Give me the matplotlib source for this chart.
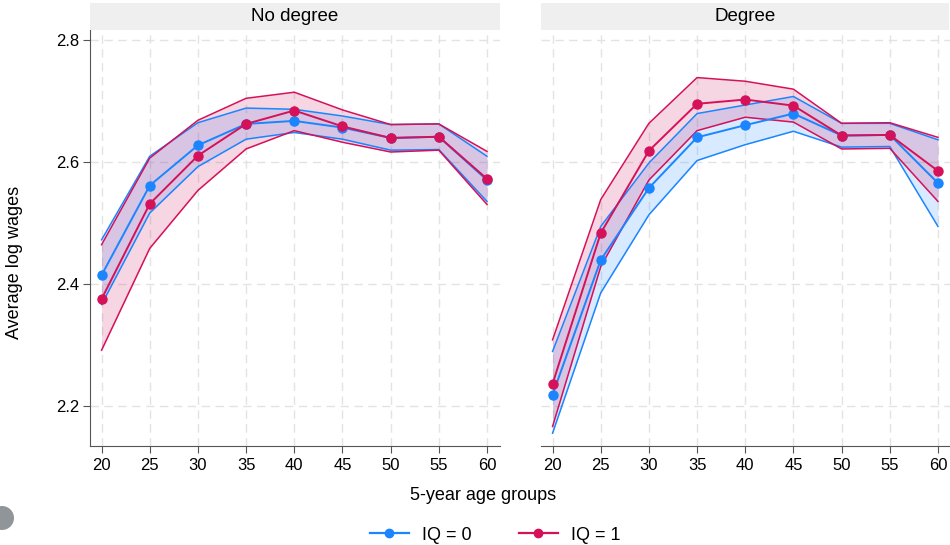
import matplotlib
matplotlib.use("Agg")
import matplotlib.pyplot as plt
from matplotlib.lines import Line2D
from matplotlib.patches import Rectangle, Ellipse

plt.rcParams['font.family'] = ['Liberation Sans', 'DejaVu Sans']

ages = [20, 25, 30, 35, 40, 45, 50, 55, 60]
panels = ["No degree", "Degree"]

# No degree
nd_iq0 = [2.414, 2.561, 2.627, 2.662, 2.667, 2.656, 2.639, 2.641, 2.570]
nd_iq0_hi = [2.472, 2.609, 2.664, 2.688, 2.686, 2.675, 2.661, 2.662, 2.609]
nd_iq0_lo = [2.366, 2.516, 2.592, 2.637, 2.648, 2.637, 2.619, 2.620, 2.535]
nd_iq1 = [2.375, 2.531, 2.610, 2.662, 2.684, 2.658, 2.639, 2.641, 2.572]
nd_iq1_hi = [2.464, 2.606, 2.668, 2.704, 2.714, 2.685, 2.661, 2.662, 2.617]
nd_iq1_lo = [2.291, 2.458, 2.553, 2.621, 2.651, 2.632, 2.616, 2.619, 2.530]

# Degree
dg_iq0 = [2.218, 2.439, 2.557, 2.640, 2.660, 2.679, 2.643, 2.644, 2.565]
dg_iq0_hi = [2.289, 2.494, 2.598, 2.679, 2.693, 2.707, 2.663, 2.663, 2.636]
dg_iq0_lo = [2.155, 2.385, 2.513, 2.602, 2.628, 2.650, 2.624, 2.625, 2.494]
dg_iq1 = [2.236, 2.483, 2.618, 2.695, 2.702, 2.692, 2.643, 2.644, 2.585]
dg_iq1_hi = [2.308, 2.538, 2.663, 2.738, 2.732, 2.719, 2.663, 2.664, 2.640]
dg_iq1_lo = [2.166, 2.428, 2.570, 2.651, 2.673, 2.665, 2.621, 2.622, 2.535]

yticks = [2.2, 2.4, 2.6, 2.8]
ytick_labels = ["2.2", "2.4", "2.6", "2.8"]
series_labels = ["IQ = 0", "IQ = 1"]

c0 = "#1A85FF"
c1 = "#D41159"

data = [
    [(nd_iq0, nd_iq0_lo, nd_iq0_hi), (nd_iq1, nd_iq1_lo, nd_iq1_hi)],
    [(dg_iq0, dg_iq0_lo, dg_iq0_hi), (dg_iq1, dg_iq1_lo, dg_iq1_hi)],
]

fig = plt.figure(figsize=(9.5, 5.45), dpi=100)
fig.patch.set_facecolor("white")

W, H = 950, 545
boxes = [(90, 500), (541, 950)]
xlims = [(18.8, 61.35), (18.8, 61.25)]
ax_top, ax_bot = 30, 446
strip_top = 3

for i, (x0, x1) in enumerate(boxes):
    ax = fig.add_axes([x0 / W, 1 - ax_bot / H, (x1 - x0) / W, (ax_bot - ax_top) / H])
    for (mean, lo, hi), col in zip(data[i], [c0, c1]):
        ax.fill_between(ages, lo, hi, color=col, alpha=0.17, lw=0, zorder=2)
        ax.plot(ages, lo, color=col, lw=1.1, zorder=3)
        ax.plot(ages, hi, color=col, lw=1.1, zorder=3)
        ax.plot(ages, mean, color=col, lw=1.4, marker="o", ms=6.5, zorder=4)
    ax.set_xlim(*xlims[i])
    ax.set_ylim(2.134, 2.816)
    ax.set_xticks(ages)
    ax.set_xticklabels([str(a) for a in ages], fontsize=12)
    ax.set_yticks(yticks)
    ax.grid(True, color="#e3e3e3", ls=(0, (6, 4)), lw=1.0, zorder=0)
    ax.set_axisbelow(True)
    for s in ["top", "right"]:
        ax.spines[s].set_visible(False)
    ax.spines["bottom"].set_color("#555555")
    ax.spines["left"].set_color("#555555")
    ax.tick_params(axis="x", length=5, color="#555555", pad=4)
    if i == 0:
        ax.set_yticklabels(ytick_labels, fontsize=12)
        ax.tick_params(axis="y", length=5, color="#555555", pad=3)
    else:
        ax.spines["left"].set_visible(False)
        ax.tick_params(axis="y", length=0, labelleft=False)
    # strip
    fig.patches.append(Rectangle((x0 / W, 1 - ax_top / H), (min(x1, 949) - x0) / W,
                                 (ax_top - strip_top) / H, transform=fig.transFigure,
                                 facecolor="#efefef", edgecolor="none"))
    fig.text((x0 + min(x1, 949)) / 2 / W, 1 - (ax_top + strip_top) / 2 / H, panels[i],
             ha="center", va="center", fontsize=13.5)

fig.text(15 / W, 1 - 262 / H, "Average log wages", ha="center", va="center",
         rotation=90, fontsize=13)
fig.text(483 / W, 1 - 495 / H, "5-year age groups", ha="center", va="center", fontsize=13)

fig.patches.append(Ellipse((2 / W, 1 - 518 / H), 24 / W, 24 / H, transform=fig.transFigure,
                           facecolor="#8f9599", edgecolor="none"))

handles = [Line2D([0], [0], color=c, lw=1.6, marker="o", ms=6) for c in [c0, c1]]
fig.legend(handles, series_labels, loc="center", bbox_to_anchor=(495 / W, 1 - 535 / H),
           ncol=2, frameon=False, fontsize=13, handlelength=2.2, columnspacing=2.6,
           handletextpad=0.7)

fig.savefig("out.png", dpi=100)
